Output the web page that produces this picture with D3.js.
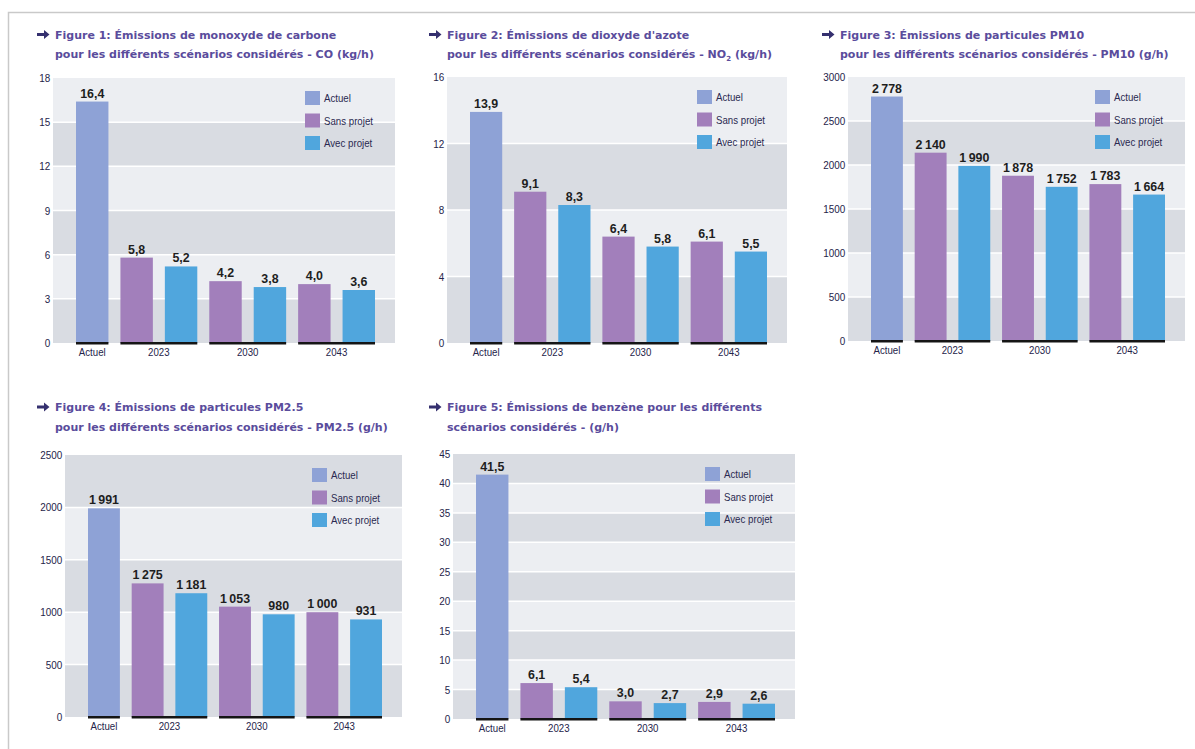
<!DOCTYPE html>
<html><head><meta charset="utf-8">
<script src="https://cdn.jsdelivr.net/npm/d3@7"></script>
<style>body{margin:0;background:#fff}svg{display:block}</style>
</head><body>
<svg id="c" width="1195" height="749"></svg>
<script>
// ---------- data ----------
const categories = ["Actuel", "2023", "2030", "2043"];
const seriesNames = ["Actuel", "Sans projet", "Avec projet"];
const years = ["2023", "2030", "2043"];

const coActuel = 16.4;
const coSans = [5.8, 4.2, 4.0];
const coAvec = [5.2, 3.8, 3.6];
const coTicks = [0, 3, 6, 9, 12, 15, 18];

const no2Actuel = 13.9;
const no2Sans = [9.1, 6.4, 6.1];
const no2Avec = [8.3, 5.8, 5.5];
const no2Ticks = [0, 4, 8, 12, 16];

const pm10Actuel = 2778;
const pm10Sans = [2140, 1878, 1783];
const pm10Avec = [1990, 1752, 1664];
const pm10Ticks = [0, 500, 1000, 1500, 2000, 2500, 3000];

const pm25Actuel = 1991;
const pm25Sans = [1275, 1053, 1000];
const pm25Avec = [1181, 980, 931];
const pm25Ticks = [0, 500, 1000, 1500, 2000, 2500];

const benzActuel = 41.5;
const benzSans = [6.1, 3.0, 2.9];
const benzAvec = [5.4, 2.7, 2.6];
const benzTicks = [0, 5, 10, 15, 20, 25, 30, 35, 40, 45];

const title1 = ["Figure 1: Émissions de monoxyde de carbone", "pour les différents scénarios considérés - CO (kg/h)"];
const title2 = ["Figure 2: Émissions de dioxyde d'azote", "pour les différents scénarios considérés - NO|2| (kg/h)"];
const title3 = ["Figure 3: Émissions de particules PM10", "pour les différents scénarios considérés - PM10 (g/h)"];
const title4 = ["Figure 4: Émissions de particules PM2.5", "pour les différents scénarios considérés - PM2.5 (g/h)"];
const title5 = ["Figure 5: Émissions de benzène pour les différents", "scénarios considérés - (g/h)"];

// ---------- styles ----------
const colors = {"Actuel": "#8ea2d6", "Sans projet": "#a27fbb", "Avec projet": "#50a6dd"};
const bandDark = "#d9dce2", bandLight = "#eceef2";
const fr = d3.formatLocale({decimal: ",", thousands: "\u2009", grouping: [3], currency: ["", " €"]});
const fmtDec = fr.format(".1f");
const fmtInt = fr.format(",d");

const svg = d3.select("#c");
svg.append("path").attr("d", "M8.5,749 V12.5 H1195").attr("fill", "none").attr("stroke", "#c9c9c9").attr("stroke-width", 1.5);

function drawPanel(L, actuel, sans, avec, ticks, fmt, title) {
  const g = svg.append("g");
  // title arrow (decorative)
  g.append("path").attr("transform", `translate(${L.textX - 18},${L.titleY - 4})`)
    .attr("d", "M0,-1.6 H7 V-4.6 L12.5,0 L7,4.6 V1.6 H0 Z").attr("fill", "#35306f");
  title.forEach((line, i) => {
    const t = g.append("text").attr("x", L.textX).attr("y", L.titleY + i * 19.5)
      .attr("font-family", "DejaVu Sans").attr("font-weight", "bold").attr("font-size", 11)
      .attr("fill", "#5a4c9c");
    const parts = line.split("|");
    parts.forEach((p, k) => {
      if (k % 2 === 1) t.append("tspan").attr("font-size", 7).attr("dy", 3).text(p);
      else t.append("tspan").attr("dy", k > 0 ? -3 : 0).text(p);
    });
  });

  const y = d3.scaleLinear().domain([0, ticks[ticks.length - 1]]).range([L.bottom, L.top]);
  // bands
  for (let i = 0; i < ticks.length - 1; i++) {
    g.append("rect").attr("x", L.left).attr("width", L.right - L.left)
      .attr("y", y(ticks[i + 1])).attr("height", y(ticks[i]) - y(ticks[i + 1]))
      .attr("fill", i % 2 === 0 ? bandDark : bandLight);
  }
  ticks.slice(1, -1).forEach(t => {
    g.append("line").attr("x1", L.left).attr("x2", L.right).attr("y1", y(t)).attr("y2", y(t))
      .attr("stroke", "#fff").attr("stroke-width", 1.5);
  });

  // y axis
  const ax = g.append("g").attr("transform", `translate(${L.left},0)`)
    .call(d3.axisLeft(y).tickValues(ticks).tickSize(0).tickPadding(3).tickFormat(d3.format("d")));
  ax.select(".domain").remove();
  ax.selectAll("text").attr("font-family", "Liberation Sans").attr("font-size", 11)
    .attr("fill", "#25244a").attr("transform", "scale(0.9,1)");

  // bars
  const bars = [{key: "Actuel", cat: "Actuel", s: "Actuel", v: actuel}];
  years.forEach((yr, i) => {
    bars.push({key: yr + "-s", cat: yr, s: "Sans projet", v: sans[i]});
    bars.push({key: yr + "-a", cat: yr, s: "Avec projet", v: avec[i]});
  });
  const x = d3.scaleBand().domain(bars.map(d => d.key)).range([L.left + 23, L.right - 20])
    .paddingInner(0.27).paddingOuter(0);
  g.selectAll(".bar").data(bars).enter().append("rect")
    .attr("x", d => x(d.key)).attr("width", x.bandwidth())
    .attr("y", d => y(d.v)).attr("height", d => y(0) - y(d.v))
    .attr("fill", d => colors[d.s]);
  g.selectAll(".val").data(bars).enter().append("text")
    .attr("transform", d => `translate(${x(d.key) + x.bandwidth() / 2},${y(d.v) - 4}) scale(0.92,1)`)
    .attr("text-anchor", "middle").attr("font-family", "Liberation Sans").attr("font-weight", "bold")
    .attr("font-size", 13.5).attr("fill", "#1e1e1e").text(d => fmt(d.v));

  // category baselines + labels
  categories.forEach(c => {
    const bs = bars.filter(b => b.cat === c);
    const x0 = x(bs[0].key), x1 = x(bs[bs.length - 1].key) + x.bandwidth();
    g.append("rect").attr("x", x0).attr("width", x1 - x0).attr("y", y(0) - 1).attr("height", 2.5).attr("fill", "#151515");
    g.append("text").attr("transform", `translate(${(x0 + x1) / 2},${y(0) + 13}) scale(0.88,1)`)
      .attr("text-anchor", "middle").attr("font-family", "Liberation Sans").attr("font-size", 11)
      .attr("fill", "#25244a").text(c);
  });

  // legend
  seriesNames.forEach((s, i) => {
    const ly = L.top + 13 + i * 22.5;
    g.append("rect").attr("x", L.right - 90).attr("y", ly).attr("width", 15).attr("height", 14).attr("fill", colors[s]);
    g.append("text").attr("transform", `translate(${L.right - 71},${ly + 11}) scale(0.88,1)`)
      .attr("font-family", "Liberation Sans").attr("font-size", 11).attr("fill", "#2a2950").text(s);
  });
}

drawPanel({left: 53, right: 395, top: 78, bottom: 343, textX: 55, titleY: 38.5}, coActuel, coSans, coAvec, coTicks, fmtDec, title1);
drawPanel({left: 447, right: 787, top: 77, bottom: 343, textX: 447, titleY: 38.5}, no2Actuel, no2Sans, no2Avec, no2Ticks, fmtDec, title2);
drawPanel({left: 848, right: 1185, top: 77, bottom: 341, textX: 840, titleY: 38.5}, pm10Actuel, pm10Sans, pm10Avec, pm10Ticks, fmtInt, title3);
drawPanel({left: 65, right: 402, top: 455, bottom: 717, textX: 55, titleY: 411}, pm25Actuel, pm25Sans, pm25Avec, pm25Ticks, fmtInt, title4);
drawPanel({left: 453, right: 795, top: 454, bottom: 719, textX: 447, titleY: 411}, benzActuel, benzSans, benzAvec, benzTicks, fmtDec, title5);
</script>
</body></html>
